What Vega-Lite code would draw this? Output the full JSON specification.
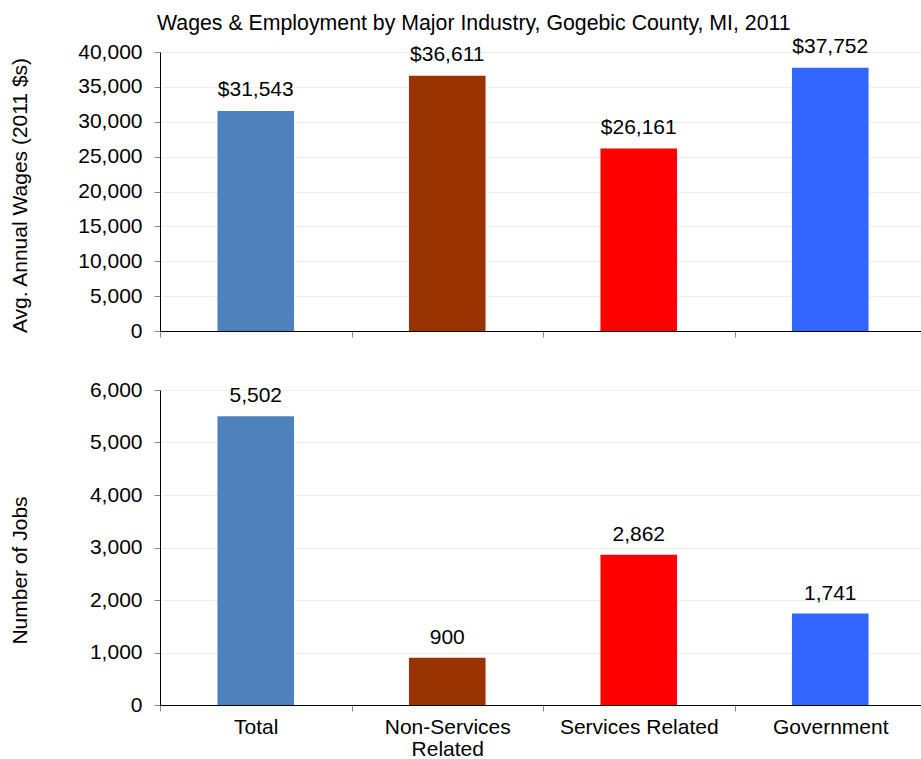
{
  "$schema": "https://vega.github.io/schema/vega-lite/v6.json",
  "background": "white",
  "padding": {"left": 9, "top": 13, "right": 0, "bottom": 0},
  "bounds": "flush",
  "spacing": 59,
  "config": {
    "font": "Liberation Sans",
    "view": {"stroke": null},
    "axis": {
      "labelFont": "Liberation Sans",
      "labelFontSize": 21,
      "labelColor": "black",
      "titleFont": "Liberation Sans",
      "titleFontSize": 21,
      "titleFontWeight": "normal",
      "titleColor": "black",
      "domainColor": "black",
      "domainWidth": 1,
      "tickColor": "#888888",
      "tickSize": 6,
      "gridColor": "#eeeeee",
      "labelOverlap": false
    }
  },
  "datasets": {
    "ind": [
      {"category": "Total", "wages": 31543, "jobs": 5502},
      {"category": "Non-Services Related", "wages": 36611, "jobs": 900},
      {"category": "Services Related", "wages": 26161, "jobs": 2862},
      {"category": "Government", "wages": 37752, "jobs": 1741}
    ]
  },
  "vconcat": [
    {
      "width": 766,
      "height": 279,
      "title": {
        "text": "Wages & Employment by Major Industry, Gogebic County, MI, 2011",
        "anchor": "start",
        "frame": "group",
        "font": "Liberation Sans",
        "fontSize": 21.3,
        "fontWeight": "normal",
        "color": "black",
        "dx": -3,
        "offset": 1
      },
      "data": {"name": "ind"},
      "encoding": {
        "x": {
          "field": "category",
          "type": "nominal",
          "sort": ["Total", "Non-Services Related", "Services Related", "Government"],
          "scale": {"paddingInner": 0, "paddingOuter": 0},
          "axis": {"title": null, "labels": false, "grid": false, "tickBand": "extent", "ticks": true, "domain": true}
        },
        "y": {
          "field": "wages",
          "type": "quantitative",
          "scale": {"domain": [0, 40000]},
          "axis": {
            "title": "Avg. Annual Wages (2011 $s)",
            "values": [0, 5000, 10000, 15000, 20000, 25000, 30000, 35000, 40000],
            "format": ",d",
            "labelPadding": 12,
            "grid": true,
            "titleX": -130,
            "titleY": 143
          }
        }
      },
      "layer": [
        {
          "mark": {"type": "bar", "width": {"band": 0.4}},
          "encoding": {
            "color": {
              "field": "category",
              "type": "nominal",
              "scale": {
                "domain": ["Total", "Non-Services Related", "Services Related", "Government"],
                "range": ["#4F81BD", "#993300", "#FF0000", "#3366FF"]
              },
              "legend": null
            }
          }
        },
        {
          "mark": {"type": "text", "dy": -21, "fontSize": 21, "baseline": "middle", "font": "Liberation Sans", "color": "black"},
          "encoding": {
            "text": {"field": "wages", "type": "quantitative", "format": "$,d"}
          }
        }
      ]
    },
    {
      "width": 766,
      "height": 315,
      "data": {"name": "ind"},
      "encoding": {
        "x": {
          "field": "category",
          "type": "nominal",
          "sort": ["Total", "Non-Services Related", "Services Related", "Government"],
          "scale": {"paddingInner": 0, "paddingOuter": 0},
          "axis": {
            "title": null,
            "labelAngle": 0,
            "grid": false,
            "tickBand": "extent",
            "labelPadding": 5,
            "labelLineHeight": 22,
            "labelExpr": "datum.value == 'Non-Services Related' ? ['Non-Services', 'Related'] : datum.label"
          }
        },
        "y": {
          "field": "jobs",
          "type": "quantitative",
          "scale": {"domain": [0, 6000]},
          "axis": {
            "title": "Number of Jobs",
            "values": [0, 1000, 2000, 3000, 4000, 5000, 6000],
            "format": ",d",
            "labelPadding": 12,
            "grid": true,
            "titleX": -130,
            "titleY": 180
          }
        }
      },
      "layer": [
        {
          "mark": {"type": "bar", "width": {"band": 0.4}},
          "encoding": {
            "color": {
              "field": "category",
              "type": "nominal",
              "scale": {
                "domain": ["Total", "Non-Services Related", "Services Related", "Government"],
                "range": ["#4F81BD", "#993300", "#FF0000", "#3366FF"]
              },
              "legend": null
            }
          }
        },
        {
          "mark": {"type": "text", "dy": -20, "fontSize": 21, "baseline": "middle", "font": "Liberation Sans", "color": "black"},
          "encoding": {
            "text": {"field": "jobs", "type": "quantitative", "format": ",d"}
          }
        }
      ]
    }
  ]
}
